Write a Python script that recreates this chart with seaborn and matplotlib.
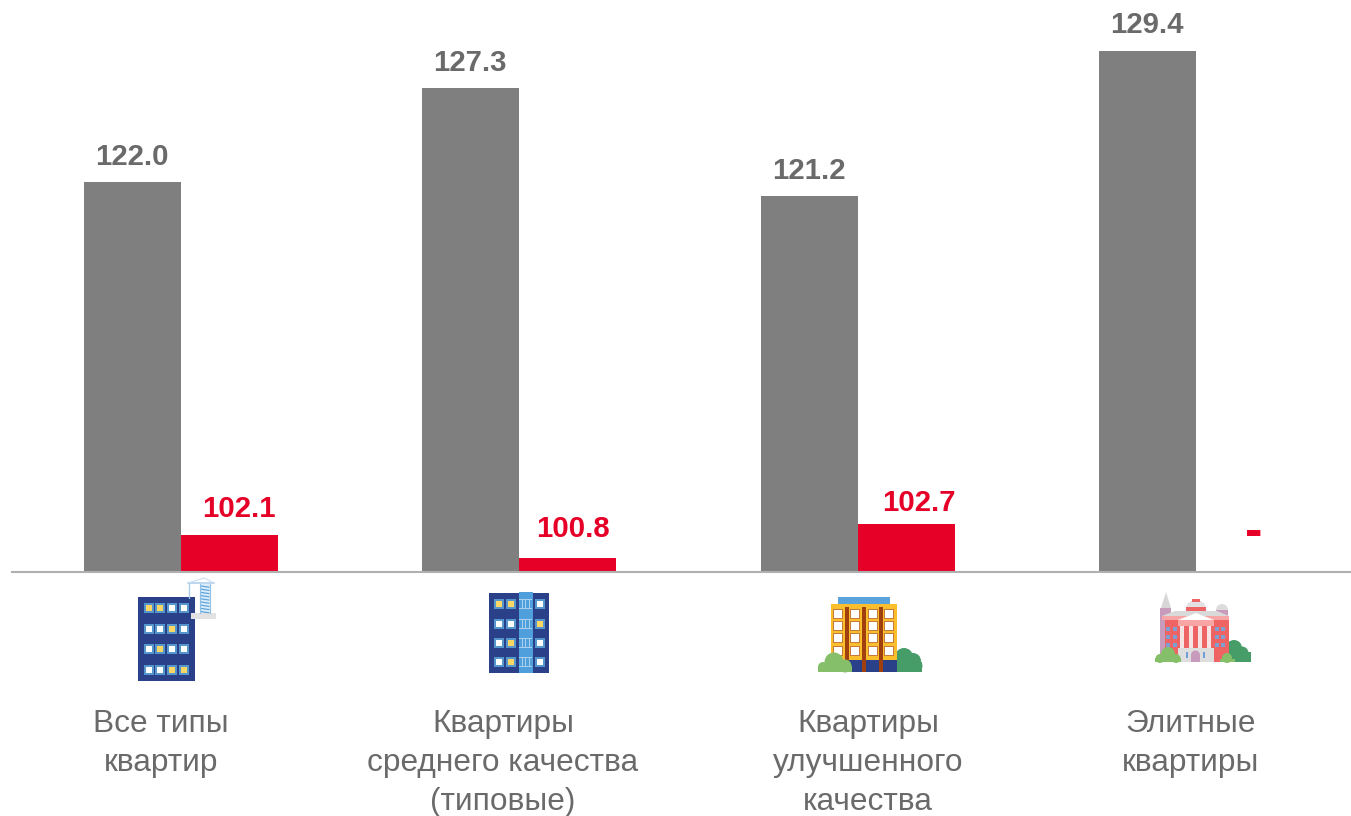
import numpy as np
import pandas as pd
import matplotlib
matplotlib.use("Agg")
import matplotlib.pyplot as plt
import seaborn as sns
from matplotlib.patches import Rectangle, Ellipse, Polygon

categories = ["Все типы\nквартир", "Квартиры\nсреднего качества\n(типовые)",
              "Квартиры\nулучшенного\nкачества", "Элитные\nквартиры"]
series_names = ["A", "B"]
grey_values = [122.0, 127.3, 121.2, 129.4]
red_values = [102.1, 100.8, 102.7, np.nan]
red_labels = ["102.1", "100.8", "102.7", "-"]

GREY = "#7f7f7f"
RED = "#e60028"
TXT = "#6a6a6a"
W, H = 1351, 816
BASE_PX, LEFT_PX = 572, 12

sns.set_theme(style="white")
plt.rcParams["font.family"] = ["Liberation Sans", "DejaVu Sans"]

df = pd.DataFrame({
    "cat": categories * 2,
    "series": [series_names[0]] * 4 + [series_names[1]] * 4,
    "value": grey_values + red_values,
})

fig = plt.figure(figsize=(W / 100, H / 100), dpi=100, facecolor="white")
ax = fig.add_axes([LEFT_PX / W, (H - BASE_PX) / H, (W - LEFT_PX) / W, BASE_PX / H])
sns.barplot(data=df, x="cat", y="value", hue="series", order=categories,
            hue_order=series_names, palette=[GREY, RED], width=0.5733, gap=0,
            legend=False, saturation=1, ax=ax, linewidth=0, errorbar=None)
step = 338.33
ax.set_xlim((LEFT_PX - 181) / step, (W - 181) / step)
ax.set_ylim(100, 100 + BASE_PX / 17.72)
ax.set_xticks(range(4))
ax.set_xticklabels([""] * 4)
ax.set_yticks([])
ax.set_xlabel("")
ax.set_ylabel("")
ax.tick_params(length=0)
for s in ["top", "left", "right"]:
    ax.spines[s].set_visible(False)
ax.spines["bottom"].set_color("#b0b0b0")
ax.spines["bottom"].set_linewidth(1.5)
ax.patch.set_alpha(0)

# value labels: offsets in pixels relative to bar top centre
grey_off = [(-0.5, 25), (-0.5, 25), (-0.5, 25), (-0.5, 26)]
red_off = [(9, 26), (5.5, 29), (13, 21)]
for i, v in enumerate(grey_values):
    ax.annotate(f"{v:.1f}", (i - 0.1433, v), xytext=grey_off[i], textcoords="offset pixels",
                ha="center", va="center", fontsize=21.2, fontweight="bold", color=TXT)
for i, v in enumerate(red_values[:3]):
    ax.annotate(red_labels[i], (i + 0.1433, v), xytext=red_off[i], textcoords="offset pixels",
                ha="center", va="center", fontsize=21.2, fontweight="bold", color=RED)

# pixel overlay for labels and pictograms
ov = fig.add_axes([0, 0, 1, 1])
ov.set_xlim(0, W)
ov.set_ylim(H, 0)
ov.axis("off")
ov.patch.set_alpha(0)

ov.text(1254, 533, red_labels[3], ha="center", va="center", fontsize=38,
        fontweight="bold", color=RED)

label_pos = [(161, 743.5), (503, 763), (868, 763), (1191, 743.5)]
for lab, (x, y) in zip(categories, label_pos):
    ov.text(x, y, lab, ha="center", va="center", fontsize=22.8, color=TXT, linespacing=1.37)


def rect(x0, y0, x1, y1, c, z=3):
    ov.add_patch(Rectangle((x0, y0), x1 - x0, y1 - y0, fc=c, ec="none", zorder=z))


def win(cx, cy, c, outer="#5596cc", s=4.6, t=3.4, z=4):
    rect(cx - s, cy - s, cx + s, cy + s, outer, z)
    rect(cx - t, cy - t, cx + t, cy + t, c, z + 0.1)


def blob(circles, c, z=6):
    for cx, cy, r in circles:
        ov.add_patch(Ellipse((cx, cy), 2 * r, 2 * r, fc=c, ec="none", zorder=z))


NAVY, YEL, WHT = "#2a4089", "#fad665", "#ffffff"
LG, DG = "#86bf6a", "#479d68"

# icon 1
rect(138, 597, 195, 681, NAVY)
pat1 = ["yyww", "wwyw", "wyww", "wwyy"]
for r, y in zip(pat1, [608, 629, 649, 670]):
    for ch, x in zip(r, [149, 160, 172, 184]):
        win(x, y, YEL if ch == "y" else WHT)
rect(191, 613, 216, 619, "#e2e2e2")
rect(200, 584, 210, 613, "#dcecf8")
for y in np.arange(586, 613, 3.2):
    ov.plot([201, 209], [y, y + 1.2], color="#5ea5dc", lw=0.9, zorder=4)
ov.plot([200, 200], [584, 613], color="#8fc0e6", lw=0.8, zorder=4)
ov.plot([210, 210], [584, 613], color="#8fc0e6", lw=0.8, zorder=4)
ov.plot([188, 214], [583, 583], color="#bcd6ee", lw=1.4, zorder=4)
ov.plot([188, 204, 214], [583, 578, 583], color="#cfe1f2", lw=0.9, zorder=4)
ov.plot([189, 189], [583, 598], color="#a9cdea", lw=1, zorder=4)

# icon 2
rect(489, 593, 549, 673, NAVY)
rect(518.5, 592, 532.5, 673, "#4f9fdc", 4)
pat2 = ["yyw", "wwy", "wyw", "wyw"]
for r, y in zip(pat2, [604, 624, 643, 662]):
    for ch, x in zip(r, [499, 511, 540]):
        win(x, y, YEL if ch == "y" else WHT)
    rect(519, y + 4, 532, y + 5.2, "#a9d0ee", 5)
    rect(519, y - 5, 532, y - 3.8, "#a9d0ee", 5)
    for x in [522, 525.5, 529]:
        rect(x - 0.5, y - 4, x + 0.5, y + 4, "#a9d0ee", 5)

# icon 3
rect(838, 597, 890, 604, "#5ba3dc")
for x in [851, 864, 877]:
    rect(x - 0.4, 597, x + 0.4, 604, "#cfe3f5", 4)
rect(831, 604, 897, 660, "#fbbf2d")
rect(845, 660, 897, 672, NAVY)
for x in [847, 864, 881]:
    rect(x - 2, 607, x + 2, 672, "#a0400f", 5)
for y in [614, 626, 638, 651]:
    for x in [838, 855, 873, 889]:
        win(x, y, WHT, outer="#c77a3a", s=4.6, t=3.6)
blob([(834, 662, 9.5), (823, 667, 5), (845, 666, 6.5)], LG)
rect(818, 666, 852, 672, LG, 6)
blob([(904, 657, 9), (913, 661, 8), (917, 666, 5.5)], DG, 2)
rect(897, 662, 922, 672, DG, 2)

# icon 4
ov.add_patch(Polygon([[1161, 608], [1166, 592], [1171, 608]], fc="#d9d6d8", ec="none", zorder=3))
rect(1160, 608, 1171, 655, "#c89abc", 2)
ov.add_patch(Ellipse((1196, 609), 20, 18, fc="#e2e0e0", ec="none", zorder=3))
rect(1186, 607, 1206, 611, "#ee6363", 5)
rect(1192, 599, 1200, 601.5, "#ee6363", 5)
ov.add_patch(Ellipse((1222, 610), 12, 12, fc="#dcdcdc", ec="none", zorder=2))
rect(1216, 610, 1228, 618, "#c89abc", 2)
rect(1165, 618, 1229, 662, "#ee6363", 3)
rect(1162, 616, 1229, 620, "#f7a5a5", 4)
ov.add_patch(Polygon([[1162, 616], [1175, 611], [1217, 611], [1229, 616]], fc="#d9d9d9", ec="none", zorder=4))
ov.add_patch(Polygon([[1178, 620], [1196, 613], [1214, 620]], fc="#ffffff", ec="none", zorder=5))
rect(1178, 620, 1214, 626, "#f7a5a5", 5)
for x in [1182, 1191, 1200, 1209]:
    rect(x - 1.8, 626, x + 1.8, 648, "#f6e3e3", 5)
rect(1178, 648, 1214, 662, "#dedede", 5)
rect(1191, 655, 1200, 662, "#c89abc", 6)
blob([(1195.5, 655, 4.5)], "#c89abc", 6)
for x in [1187, 1204]:
    rect(x - 1.4, 652, x + 1.4, 658, "#6f9fd8", 6)
for x in [1168, 1175, 1217, 1223]:
    for y in [629, 637, 645]:
        rect(x - 1.8, y - 2, x + 1.8, y + 2, "#7f9fd0", 5)
blob([(1168, 654, 7), (1160, 658.5, 4.5), (1176, 658.5, 4.5)], LG, 7)
rect(1155, 658, 1181, 662, LG, 7)
blob([(1234, 648, 8), (1242, 653, 6.5), (1246, 657, 5)], DG, 2)
rect(1226, 652, 1251, 662, DG, 2)
blob([(1227, 658, 5)], LG, 7)
rect(1220, 659, 1235, 662, LG, 7)

fig.savefig("out.png", dpi=100, facecolor="white")
